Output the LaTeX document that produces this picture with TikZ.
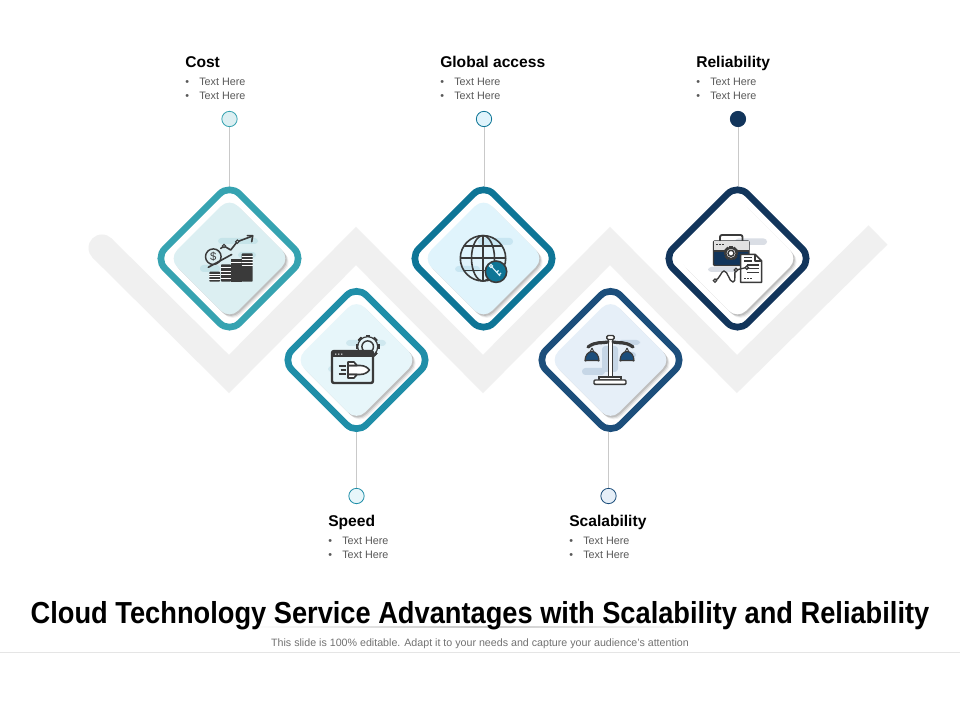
\documentclass[tikz,border=0pt]{standalone}
\usepackage{fontspec}
\setmainfont{Liberation Sans}
\usetikzlibrary{shapes.geometric}
\pgfdeclarelayer{under}
\pgfsetlayers{under,main}
\definecolor{bandgray}{HTML}{F0F0F0}
\definecolor{linegray}{HTML}{C9C9C9}
\definecolor{ink}{HTML}{3A3A3A}
\definecolor{bodytext}{HTML}{595959}
\definecolor{ringA}{HTML}{36A3B1}\definecolor{fillA}{HTML}{DCEFF2}\definecolor{blobA}{HTML}{C6E4E9}
\definecolor{ringB}{HTML}{1F8EA8}\definecolor{fillB}{HTML}{E7F6FA}\definecolor{blobB}{HTML}{CFE8EF}
\definecolor{ringC}{HTML}{0E7596}\definecolor{fillC}{HTML}{E0F4FC}\definecolor{blobC}{HTML}{C8E6F2}
\definecolor{ringD}{HTML}{1C4E7B}\definecolor{fillD}{HTML}{E6EFF8}\definecolor{blobD}{HTML}{C6D6E6}
\definecolor{ringE}{HTML}{12355B}\definecolor{fillE}{HTML}{FFFFFF}\definecolor{blobE}{HTML}{DADEE5}
\tikzset{
  halo/.style={rectangle,rotate=45,fill=white,draw=none,minimum size=84pt,inner sep=0pt,rounded corners=13pt},
  ringbox/.style={rectangle,rotate=45,fill=white,draw=#1,line width=5pt,minimum size=79pt,inner sep=0pt,rounded corners=10.5pt},
  plate/.style={rectangle,rotate=45,fill=#1,draw=none,minimum size=64.5pt,inner sep=0pt,rounded corners=9pt},
  plateshadow/.style={rectangle,rotate=45,fill=black,fill opacity=#1,draw=none,minimum size=64.5pt,inner sep=0pt,rounded corners=9pt},
  connector/.style={draw=linegray,line width=0.6pt},
  dot/.style={circle,draw=#1,line width=0.6pt,minimum size=11.5pt,inner sep=0pt},
  head/.style={anchor=base west,inner sep=0pt,font=\fontsize{11.7pt}{13pt}\selectfont\bfseries,text=black},
  item/.style={anchor=base west,inner sep=0pt,font=\fontsize{8.1pt}{9pt}\selectfont,text=bodytext},
  bulletmark/.style={anchor=base west,inner sep=0pt,font=\fontsize{8pt}{9pt}\selectfont,text=bodytext},
  iconline/.style={draw=ink,line width=1.2pt,line join=round,line cap=round},
  stripe/.style={draw=white,line width=0.45pt},
}
\newcommand{\unitbox}[5]{% name, x, y(tikz), ring, fill
  \node[halo] (#1h) at (#2,#3) {};
  \node[ringbox=#4] (#1) at (#2,#3) {};
  \node[plateshadow=0.05] (#1s1) at (#2+3.4,#3-3.6) {};
  \node[plateshadow=0.09] (#1s2) at (#2+2.4,#3-2.6) {};
  \node[plateshadow=0.13] (#1s3) at (#2+1.4,#3-1.6) {};
  \node[plate=#5] (#1p) at (#2,#3) {};
}
\newcommand{\blob}[5]{\fill[#1,rounded corners=2.5pt] (#2,#3) rectangle (#4,#5);}
\newcommand{\gearshape}[5]{% x y r tooth-fill inner-fill
  \foreach \a in {0,45,...,315}{
    \fill[ink,rotate around={\a:(#1,#2)}] (#1-2.2,#2-#3-1.8) rectangle (#1+2.2,#2+#3+1.8);
  }
  \filldraw[fill=#4,draw=ink,line width=0.9pt] (#1,#2) circle (#3);
  \filldraw[fill=#5,draw=ink,line width=1.1pt] (#1,#2) circle (#3*0.58);
}
\begin{document}
\begin{tikzpicture}[x=0.75pt,y=0.75pt]
\useasboundingbox (0,0) rectangle (960,720);

\begin{pgfonlayer}{under}
\fill[white] (0,0) rectangle (960,720);
\begin{scope}[shift={(0,720)},yscale=-1]
  \fill[bandgray] (102,248) circle (13.5);
  \draw[bandgray,line width=20.25pt,line join=miter,miter limit=4]
    (102,248) -- (229,374) -- (356,246) -- (483,374) -- (610,246) -- (737,374) -- (878,235);
\end{scope}
\end{pgfonlayer}

\node[dot=ringA,fill=fillA] (d1) at (229.5,601) {};
\node[dot=ringC,fill=fillC] (d3) at (484,601) {};
\node[dot=ringE,fill=ringE] (d5) at (738,601) {};
\node[dot=ringB,fill=fillB] (d2) at (356.5,224) {};
\node[dot=ringD,fill=fillD] (d4) at (608.5,224) {};

\unitbox{u1}{229.5}{461.5}{ringA}{fillA}
\unitbox{u2}{356.5}{360}{ringB}{fillB}
\unitbox{u3}{483.5}{461.5}{ringC}{fillC}
\unitbox{u4}{610.5}{360}{ringD}{fillD}
\unitbox{u5}{737.5}{461.5}{ringE}{fillE}

\begin{pgfonlayer}{under}
\draw[connector] (d1) -- (d1 |- u1.center);
\draw[connector] (d3) -- (d3 |- u3.center);
\draw[connector] (d5) -- (d5 |- u5.center);
\draw[connector] (d2) -- (d2 |- u2.center);
\draw[connector] (d4) -- (d4 |- u4.center);
\end{pgfonlayer}

% icons in pixel coordinates (y down)
\begin{scope}[shift={(0,720)},yscale=-1]
  % ---- cost
  \blob{blobA}{218}{238}{258}{244}
  \blob{blobA}{200}{265}{220}{272}
  \blob{blobA}{238}{252}{256}{258}
  \filldraw[fill=none,draw=ink,line width=1.1pt] (213.3,256.7) circle (7.8);
  \draw[iconline] (208.3,267.3) -- (231.7,254.5);
  \draw[iconline] (220.7,248.5) -- (224,246) -- (230.7,250) -- (237.3,241.7) -- (252.7,236);
  \draw[iconline] (247.3,235.7) -- (252.7,235.7) -- (251.7,241.7);
  \filldraw[fill=fillA,draw=ink,line width=.8pt] (224,246) circle (1.7);
  \filldraw[fill=fillA,draw=ink,line width=.8pt] (237.3,241.7) circle (1.7);
  \foreach \xa/\ya/\xb/\nn in {209.3/271.7/220/3,221/264.3/231/4}{
    \fill[ink,rounded corners=.6pt] (\xa,\ya) rectangle (\xb,281.7);
    \foreach \i in {1,...,\nn}{ \draw[stripe] (\xa,{\ya+\i*(281.7-\ya)/(\nn+1)}) -- (\xb,{\ya+\i*(281.7-\ya)/(\nn+1)}); }
  }
  \fill[ink] (231,259.3) rectangle (241.7,281.7);
  \draw[stripe] (231,262.5) -- (241.7,262.5);
  \fill[ink,rounded corners=.6pt] (241.7,253.3) rectangle (252.7,281.7);
  \foreach \yy in {256,259,262,265}{ \draw[stripe] (241.7,\yy) -- (252.7,\yy); }

  % ---- speed
  \blob{blobB}{346}{340}{386}{346}
  \blob{blobB}{328}{366}{345}{372}
  \gearshape{367.7}{346.7}{10}{fillB}{fillB}
  \filldraw[fill=fillB!85!blobB,draw=ink,line width=1.8pt,rounded corners=1.5pt] (332,351) rectangle (373,383);
  \fill[ink] (332,351) rectangle (373,357);
  \fill[white] (335,353.6) rectangle (336.4,354.6) (338,353.6) rectangle (339.4,354.6) (341,353.6) rectangle (342.4,354.6);
  \filldraw[fill=white,draw=ink,line width=1.2pt,line join=round]
     (348,365.5) -- (360,365.5) .. controls (365,365.5) and (368,368) .. (369.5,370) .. controls (368,372) and (365,374.5) .. (360,374.5) -- (348,374.5) -- cycle;
  \filldraw[fill=white,draw=ink,line width=1.2pt,line join=round] (348,362) -- (354,362) -- (357,365.5) -- (348,365.5) -- cycle;
  \filldraw[fill=white,draw=ink,line width=1.2pt,line join=round] (348,378) -- (354,378) -- (357,374.5) -- (348,374.5) -- cycle;
  \draw[ink,line width=1.1pt] (338.5,366) -- (346,366) (340.5,370) -- (346,370) (338.5,374) -- (346,374);

  % ---- global
  \blob{blobC}{478}{238}{513}{245}
  \blob{blobC}{455}{266}{480}{272}
  \draw[ink,line width=1.2pt] (483,258.3) circle (22.7);
  \draw[ink,line width=1.2pt] (483,258.3) ellipse (11.5 and 22.7);
  \draw[ink,line width=1.2pt] (483,235.6) -- (483,281);
  \draw[ink,line width=1.2pt] (460.3,258.3) -- (505.7,258.3);
  \draw[ink,line width=1.2pt] (464,246) -- (502,246) (464,270.5) -- (502,270.5);
  \filldraw[fill=ringC,draw=ink,line width=1.2pt] (496,271.7) circle (10.7);
  \draw[fillC,line width=.8pt] (491.5,266.5) -- (500,276) (496.5,272.5) -- (498.5,270.5) (499,275) -- (501,273);
  \draw[fillC,line width=.8pt] (491,266) circle (1.7);

  % ---- scale
  \blob{blobD}{582}{368}{605}{375}
  \blob{blobD}{618}{340}{640}{345}
  \blob{blobD}{625}{352}{636}{358}
  \blob{blobD}{602}{346}{618}{372}
  \filldraw[fill=white,draw=ink,line width=1.1pt] (608.3,336) rectangle (612.7,380);
  \filldraw[fill=white,draw=ink,line width=1.1pt,rounded corners=1pt] (606.8,335.5) rectangle (614.2,339.5);
  \draw[ink,line width=2.4pt,line cap=round] (588,347) .. controls (596,341) and (602,343.5) .. (608,342);
  \draw[ink,line width=2.4pt,line cap=round] (613,342) .. controls (619,343.5) and (625,341) .. (633,347);
  \draw[ink,line width=.7pt] (592,348) -- (585.5,361.5) (592,348) -- (598.5,361.5)
        (627,348) -- (620.5,361.5) (627,348) -- (633.5,361.5);
  \filldraw[fill=ringD,draw=ink,line width=.9pt] (585,360.5) -- (599,360.5) arc (0:-180:7 and 9) -- cycle;
  \filldraw[fill=ringD,draw=ink,line width=.9pt] (620,360.5) -- (634,360.5) arc (0:-180:7 and 9) -- cycle;
  \filldraw[fill=white,draw=ink,line width=1.1pt] (599,377) rectangle (621,380);
  \filldraw[fill=white,draw=ink,line width=1.1pt,rounded corners=.8pt] (594,380) rectangle (626,384.3);

  % ---- reliability
  \blob{blobE}{735}{238.5}{767}{245}
  \blob{blobE}{708}{267}{738}{272}
  \draw[ink,line width=1.4pt,rounded corners=1.5pt] (720,241) -- (720,235) -- (742.5,235) -- (742.5,241);
  \filldraw[fill=ringE,draw=ink,line width=1.1pt,rounded corners=.8pt] (713.5,241) rectangle (749,265.5);
  \fill[fillE!85!ink] (714,241.5) rectangle (748.5,251);
  \draw[ink,line width=1.1pt] (713.5,251) -- (749,251);
  \draw[ink,line width=1pt] (716,244.5) -- (717.5,244.5) (719,244.5) -- (720.5,244.5) (722,244.5) -- (723.5,244.5);
  \gearshape{731}{253.3}{5.2}{white}{white}
  \filldraw[fill=white,draw=ink,line width=1.1pt,line join=round] (740.7,254.3) -- (755,254.3) -- (761.7,261) -- (761.7,282.3) -- (740.7,282.3) -- cycle;
  \draw[ink,line width=.8pt,line join=round] (755,254.3) -- (755,261) -- (761.7,261);
  \draw[ink,line width=1.1pt] (744,257.5) -- (752,257.5) (744,261) -- (752,261) (747,265) -- (759,265) (747,268.5) -- (759,268.5) (747,272.5) -- (759,272.5);
  \draw[ink,line width=1pt] (744,278.5) -- (745.5,278.5) (747,278.5) -- (748.5,278.5) (750,278.5) -- (751.5,278.5);
  \draw[ink,line width=1pt] (715,280.5) .. controls (720,279) and (721,271) .. (724,271) .. controls (728,271) and (729,282) .. (733,282) .. controls (737,282) and (733,272) .. (736,270) -- (746.5,267.5);
  \filldraw[fill=white,draw=ink,line width=.9pt] (715,280.7) circle (1.7);
  \filldraw[fill=white,draw=ink,line width=.9pt] (736,270) circle (1.7);
  \filldraw[fill=white,draw=ink,line width=.9pt] (746.8,267.7) circle (1.7);
  \node[inner sep=0pt,text=ink,font=\fontsize{8.5pt}{9pt}\selectfont] (dollar) at (213.3,256.7) {\$};
\end{scope}

% text blocks
\node[head] (t1) at (185,652.5) {Cost};
\node[bulletmark] (b1a) at (185,634) {•};\node[item] (i1a) at (199,634) {Text Here};
\node[bulletmark] (b1b) at (185,620) {•};\node[item] (i1b) at (199,620) {Text Here};
\node[head] (t3) at (440,652.5) {Global access};
\node[bulletmark] (b3a) at (440,634) {•};\node[item] (i3a) at (454,634) {Text Here};
\node[bulletmark] (b3b) at (440,620) {•};\node[item] (i3b) at (454,620) {Text Here};
\node[head] (t5) at (696,652.5) {Reliability};
\node[bulletmark] (b5a) at (696,634) {•};\node[item] (i5a) at (710,634) {Text Here};
\node[bulletmark] (b5b) at (696,620) {•};\node[item] (i5b) at (710,620) {Text Here};
\node[head] (t2) at (328,193.5) {Speed};
\node[bulletmark] (b2a) at (328,175) {•};\node[item] (i2a) at (342,175) {Text Here};
\node[bulletmark] (b2b) at (328,161) {•};\node[item] (i2b) at (342,161) {Text Here};
\node[head] (t4) at (569,193.5) {Scalability};
\node[bulletmark] (b4a) at (569,175) {•};\node[item] (i4a) at (583,175) {Text Here};
\node[bulletmark] (b4b) at (569,161) {•};\node[item] (i4b) at (583,161) {Text Here};

% title
\shade[left color=white,right color=white,middle color=black!22] (245,92.4) rectangle (705,93.4);
\node[anchor=base,inner sep=0pt] (title) at (480,96.5) {\scalebox{0.896}[1]{\fontsize{22.8pt}{26pt}\selectfont\bfseries Cloud Technology Service Advantages with Scalability and Reliability}};
\node[anchor=base,inner sep=0pt,text=bodytext!85!white] (sub) at (480,73) {\fontsize{8pt}{9pt}\selectfont This slide is 100\% editable. Adapt it to your needs and capture your audience's attention};
\draw[draw=black!10,line width=0.6pt] (0,68) -- (960,68);
\end{tikzpicture}
\end{document}
